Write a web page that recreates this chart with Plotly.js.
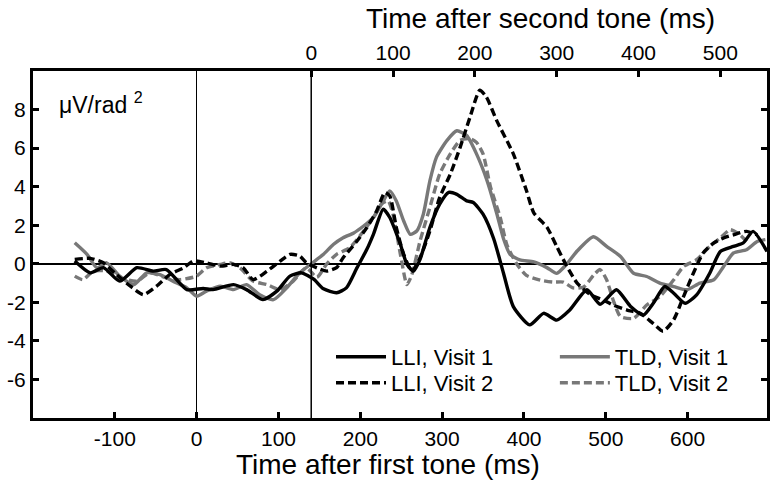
<!DOCTYPE html>
<html>
<head>
<meta charset="utf-8">
<script src="https://cdn.plot.ly/plotly-3.0.1.min.js"></script>
<style>html,body{margin:0;padding:0;background:#fff;}#plot{width:774px;height:495px;}</style>
</head>
<body>
<div id="plot"></div>
<script>
// Time after first tone (ms) and amplitude (µV/rad²)
const lliV1_x = [-149,-130,-114,-94,-73,-53,-37,-12,8,20,45,61,81,98,114,128,143,155,171,183,196,208,216,228,236,249,257,265,273,285,297,308,318,330,338,350,363,375,387,407,424,440,456,477,493,513,530,546,558,572,583,597,611,627,640,656,668,680,697];
const lliV1_y = [0.14,-0.47,-0.2,-0.9,-0.2,-0.38,-0.3,-1.34,-1.28,-1.34,-1.08,-1.34,-1.86,-1.42,-0.64,-0.47,-0.8,-1.3,-1.5,-1.25,-0.2,0.75,1.53,2.83,2.4,1.0,-0.03,-0.38,0.23,1.88,3.09,3.7,3.6,3.26,3.18,2.57,1.3,-0.49,-2.22,-3.17,-2.57,-2.92,-2.4,-1.35,-2.1,-1.35,-2.2,-2.66,-2.05,-1.18,-1.53,-2.05,-1.61,-0.49,0.64,0.9,1.08,1.68,0.64];

const lliV2_x = [-149,-130,-114,-98,-81,-65,-49,-33,-16,-4,12,29,45,57,69,86,102,114,126,134,147,159,171,179,196,208,220,230,236,244,253,263,273,285,297,310,322,334,346,354,367,387,403,412,428,440,452,465,481,497,509,526,542,558,570,583,595,607,619,632,644,656,672,685];
const lliV2_y = [0.23,0.28,0.05,-0.56,-1.16,-1.6,-1.16,-0.56,-0.21,0.14,0.05,-0.12,-0.03,-0.21,-0.82,-0.38,0.14,0.49,0.4,0.05,-0.21,-0.38,-0.2,0.31,1.18,1.88,2.74,3.7,3.52,1.88,0.49,-0.38,0.31,1.7,3.44,4.65,6.04,7.6,9.0,8.65,7.4,5.7,3.8,2.64,1.9,0.9,-0.1,-1.0,-1.6,-1.88,-2.14,-2.4,-2.57,-3.1,-3.5,-2.9,-1.7,-0.49,0.56,1.08,1.34,1.5,1.68,1.5];

const tldV1_x = [-149,-134,-122,-110,-94,-77,-61,-45,-29,-12,0,12,29,45,61,77,94,110,126,140,155,167,179,192,204,216,228,236,244,253,261,269,277,285,293,306,318,330,342,355,367,375,383,395,412,428,440,452,465,485,501,518,534,550,566,583,599,615,632,644,656,672,685,695];
const tldV1_y = [1.09,0.49,-0.21,0.05,-0.64,-1.08,-0.47,-0.56,-0.9,-1.25,-1.68,-1.42,-1.16,-1.34,-1.08,-1.6,-1.86,-1.25,-0.47,0.0,0.49,1.0,1.35,1.6,1.96,2.4,3.26,3.78,3.26,2.22,1.53,1.7,2.57,4.3,5.52,6.4,6.9,6.65,5.7,4.3,2.57,1.3,0.49,0.2,0.1,-0.2,-0.5,-0.03,0.66,1.4,0.9,0.38,-0.49,-0.66,-1.0,-1.18,-1.35,-1.0,-0.83,-0.14,0.56,0.73,1.16,1.25];

const tldV2_x = [-149,-139,-126,-110,-94,-73,-57,-37,-20,0,12,29,41,53,69,86,102,118,134,147,159,171,187,204,216,226,234,240,249,257,263,273,285,297,310,322,334,342,350,359,371,379,391,403,420,436,448,460,473,485,493,501,509,518,534,550,566,583,595,611,627,640,652,664,672];
const tldV2_y = [-0.64,-0.82,-0.38,-0.38,-0.73,-0.9,-0.47,-0.73,-0.82,-0.64,-0.21,-0.03,0.05,-0.21,-0.9,-1.08,-1.34,-0.9,-0.21,-0.7,0.0,0.49,0.83,1.7,2.4,3.1,3.26,2.57,0.49,-1.08,-0.56,1.18,2.92,4.65,5.7,6.4,6.5,6.3,5.7,4.0,2.4,1.0,0.0,-0.6,-0.85,-0.95,-0.95,-1.25,-1.2,-0.6,-0.3,-0.83,-1.88,-2.74,-2.83,-2.14,-1.7,-0.83,-0.14,0.21,0.9,1.34,1.77,1.5,1.16];

const seriesNames = ["LLI, Visit 1","LLI, Visit 2","TLD, Visit 1","TLD, Visit 2"];
const bottomTicks = [-100,0,100,200,300,400,500,600];
const bottomTickText = ["-100","0","100","200","300","400","500","600"];
const topTicks = [0,100,200,300,400,500];
const yTicks = [-6,-4,-2,0,2,4,6,8];
const yTickText = ["-6","-4","-2","0","2","4","6","8"];
const secondToneOnset = 140;

const FONT = "Liberation Sans, Arial, sans-serif";
const GRAY = "#787878";
const DASH = "8px,4px";
const TICK = 21;
const LEG = 22;

function tr(x, y, name, color, dash, legend) {
  return {x: x, y: y, name: name, type: "scatter", mode: "lines",
    line: {color: color, width: 3.4, dash: dash, shape: "spline", smoothing: 0.6},
    legend: legend, hoverinfo: "skip"};
}

const data = [
  tr(tldV1_x, tldV1_y, seriesNames[2], GRAY, "solid", "legend2"),
  tr(tldV2_x, tldV2_y, seriesNames[3], GRAY, DASH, "legend4"),
  tr(lliV1_x, lliV1_y, seriesNames[0], "#000000", "solid", "legend"),
  tr(lliV2_x, lliV2_y, seriesNames[1], "#000000", DASH, "legend3"),
  {x: [], y: [], xaxis: "x2", type: "scatter", mode: "lines", showlegend: false}
];

function leg(x, y) {
  return {x: x, y: y, xanchor: "left", yanchor: "middle", bgcolor: "rgba(0,0,0,0)",
    font: {size: LEG}, itemwidth: 50};
}

const xr = [-200, 697];
const layout = {
  width: 774, height: 495,
  margin: {l: 33, r: 7, t: 71, b: 77},
  paper_bgcolor: "#ffffff", plot_bgcolor: "#ffffff",
  font: {family: FONT, color: "#000", size: TICK},
  showlegend: true,
  xaxis: {range: xr, tickvals: bottomTicks, ticktext: bottomTickText, ticks: "inside", ticklen: 6, tickwidth: 3,
    tickcolor: "#000", showline: true, linewidth: 3, linecolor: "#000", showgrid: false,
    zeroline: true, zerolinecolor: "#000", zerolinewidth: 1.5, tickfont: {size: TICK}},
  xaxis2: {range: [xr[0] - secondToneOnset, xr[1] - secondToneOnset], overlaying: "x", side: "top", anchor: "y",
    tickvals: topTicks, ticks: "inside", ticklen: 6, tickwidth: 3, tickcolor: "#000",
    showline: true, linewidth: 3, linecolor: "#000", showgrid: false, zeroline: false, tickfont: {size: TICK}},
  yaxis: {range: [-8, 10], tickvals: yTicks, ticktext: yTickText, ticks: "inside", ticklen: 6, tickwidth: 3,
    tickcolor: "#000", showline: true, linewidth: 3, linecolor: "#000", mirror: "ticks", showgrid: false,
    zeroline: true, zerolinecolor: "#000", zerolinewidth: 1.5, tickfont: {size: TICK}},
  shapes: [{type: "line", xref: "x", yref: "paper", x0: secondToneOnset, x1: secondToneOnset, y0: 0, y1: 1,
    line: {color: "#000", width: 1.5}}],
  legend: leg(0.406, 0.176),
  legend3: leg(0.406, 0.101),
  legend2: leg(0.711, 0.176),
  legend4: leg(0.711, 0.101),
  annotations: [
    {text: "Time after first tone (ms)", xref: "paper", yref: "paper", x: 0.4837, y: -0.1354,
      xanchor: "center", yanchor: "middle", showarrow: false, font: {size: 28}},
    {text: "Time after second tone (ms)", xref: "paper", yref: "paper", x: 0.692, y: 1.1527,
      xanchor: "center", yanchor: "middle", showarrow: false, font: {size: 28}},
    {text: "μV/rad <sup>2</sup>", xref: "paper", yref: "paper", x: 0.0327, y: 0.908,
      xanchor: "left", yanchor: "middle", showarrow: false, font: {size: 23}}
  ]
};

Plotly.newPlot("plot", data, layout, {staticPlot: true, displayModeBar: false});
</script>
</body>
</html>
